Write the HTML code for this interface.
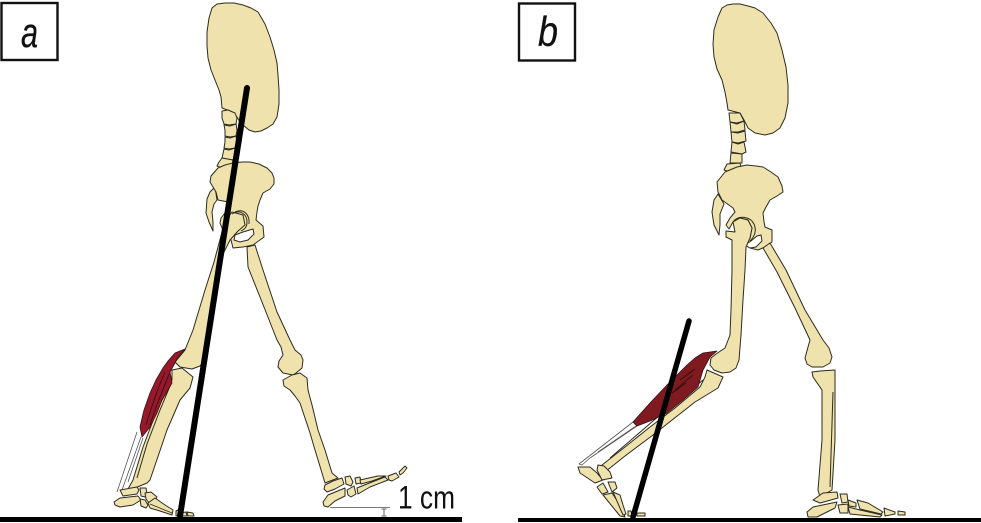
<!DOCTYPE html>
<html lang="en">
<head>
<meta charset="utf-8">
<title>Gait diagram</title>
<style>
html,body{margin:0;padding:0;background:#fff;width:981px;height:523px;overflow:hidden}
svg{display:block;filter:blur(.35px)}
.b{fill:#efe2ad;stroke:#2b2b1e;stroke-width:1;stroke-linejoin:round}
.m{fill:#97182a;stroke:#3a1015;stroke-width:.8;stroke-linejoin:round}
.m2{fill:#7f1a20;stroke:#3a1015;stroke-width:.8;stroke-linejoin:round}
.t{fill:#fff;stroke:#555;stroke-width:.8;stroke-linejoin:round}
.box{fill:#fff;stroke:#111;stroke-width:2.4}
.lab{font-family:"Liberation Sans",sans-serif;font-style:italic;font-size:42px;fill:#111;stroke:#111;stroke-width:.3}
</style>
</head>
<body>
<svg width="981" height="523" viewBox="0 0 981 523" xmlns="http://www.w3.org/2000/svg">
<rect width="981" height="523" fill="#fff"/>

<!-- PANEL A -->
<rect class="box" x="1.5" y="3" width="56" height="57"/>
<text class="lab" x="21" y="47" textLength="17" lengthAdjust="spacingAndGlyphs">a</text>

<!-- thorax -->
<polygon class="b" points="225,3 217,4 212,8 209,18 207,32 207,46 208,58 211,70 215,80 219,90 221,97 222,108 230,111 237,117 240,122 243,125 249,130 255,132 261,131 267,128 273,124 277,117 279,104 279,90 278,75 277,63 274,50 270,37 265,24 258,12 251,8 243,5 234,3"/>
<!-- vertebrae -->
<polygon class="b" points="222,111 228,110 235,113 237,118 236,124 229,125 224,124 222,118"/>
<polygon class="b" points="224,125 230,126 236,124 237,130 236,136 230,137 225,136 225,130"/>
<polygon class="b" points="225,137 230,138 236,136 237,142 235,148 229,149 224,148 225,142"/>
<polygon class="b" points="224,149 229,150 235,148 235,155 233,160 227,159 222,158"/>
<polygon class="b" points="222,158 233,160 232,165 222,168 217,166 219,162"/>
<!-- sacrum tail -->
<polygon class="b" points="215,187 210,192 207,199 206,213 209,222 213,231 213,222 212,212 214,204 217,200"/>
<!-- pelvis -->
<polygon class="b" points="218,168 225,165 233,163 242,162 250,162 259,164 267,168 272,173 274,178 274,184 270,189 263,193 260,200 258,206 257,212 256,220 263,226 264,237 253,245 243,247 233,248 231,240 228,232 222,228 220,223 221,218 225,213 227,207 228,202 218,200 216,192 210,182 211,176"/>
<!-- left femur -->
<polygon class="b" points="232,212 243,215 245,225 238,231 230,240 224,252 218,275 208,330 207,348 205,360 200,366 192,369 180,367 175,362 180,356 185,350 193,330 205,290 214,262 222,232 226,220"/>
<!-- acetabulum -->
<path d="M232,214 C240,209 247,214 247,222 C247,227 245,229 241,231 M235,212 C244,208 250,215 249,224" fill="none" stroke="#2b2b1e" stroke-width="1"/>
<polygon points="234,240 235,235 243,232 253,229 254,234 248,240 240,242" fill="#fff" stroke="#2b2b1e" stroke-width="1"/>
<!-- right femur -->
<polygon class="b" points="247,247 255,245 263,270 277,312 290,340 295,350 301,355 303,360 302,368 296,373 293,375 283,373 278,367 279,361 283,355 281,347 277,340 262,302 248,267"/>
<!-- right tibia -->
<polygon class="b" points="283,380 292,375 300,373 307,378 308,390 312,405 318,430 325,450 332,473 338,478 325,483 322,473 315,450 310,433 305,418 300,403 295,396 290,390 284,386"/>
<!-- right foot -->
<polygon class="b" points="325,485 333,481 342,478 344,484 335,489 327,492 324,489"/>
<polygon class="b" points="323,502 328,495 345,488 345,496 335,501 328,507 324,506"/>
<polygon class="b" points="345,477 350,476 353,482 351,486 346,484"/>
<polygon class="b" points="347,490 354,486 356,494 351,497 348,495"/>
<polygon class="b" points="355,478 360,477 361,483 356,484"/>
<polygon class="b" points="360,480 378,476 386,476 372,481 361,484"/>
<polygon class="b" points="357,488 372,482 385,477 388,480 370,487 358,494"/>
<polygon class="b" points="388,476 396,473 399,477 392,481 389,480"/>
<polygon class="b" points="399,472 405,466 407,468 403,473 400,475"/>
<!-- left tibia -->
<polygon class="b" points="172,370 182,368 193,377 190,388 180,400 167,430 150,480 147,483 135,488 128,489 133,480 143,447 157,410 168,388 172,380"/>
<polyline points="170,386 160,410 147,444 137,478" fill="none" stroke="#2b2b1e" stroke-width="1"/>
<!-- tendon -->
<line x1="137" y1="432" x2="117" y2="492" stroke="#555" stroke-width=".8"/>
<line x1="141" y1="437" x2="122" y2="490" stroke="#555" stroke-width=".8"/>
<line x1="143" y1="438" x2="128" y2="482" stroke="#555" stroke-width=".8"/>
<!-- muscle -->
<polygon class="m" points="185,349 175,353 168,361 163,368 156,380 150,393 144,410 140,427 142,437 150,427 157,413 162,400 168,390 172,383 170,372 175,363 178,357"/>
<path d="M165,372 C156,392 150,412 146,425 M170,372 C162,392 155,408 150,425" fill="none" stroke="#2a0d10" stroke-width=".8"/>
<!-- left foot -->
<polygon class="b" points="114,502 120,498 138,496 141,500 133,505 120,507 115,505"/>
<polygon class="b" points="120,490 137,487 139,490 137,494 123,496"/>
<polygon class="b" points="140,488 146,488 147,494 145,497 141,496"/>
<polygon class="b" points="145,493 151,492 157,497 155,502 150,504 146,499"/>
<polygon class="b" points="140,499 145,500 148,505 146,508 141,506"/>
<polygon class="b" points="148,503 155,498 165,505 173,510 172,515 160,511 150,508"/>
<line x1="150" y1="504" x2="172" y2="513" stroke="#2b2b1e" stroke-width=".8"/>
<polygon class="b" points="176,511 178,510 180,515 176,516"/>
<polygon class="b" points="180,513 186,512 187,516 180,516"/>
<polygon class="b" points="187,512 193,513 194,516 188,516"/>
<!-- gravity line -->
<line x1="247" y1="88" x2="180" y2="516" stroke="#000" stroke-width="6" stroke-linecap="round"/>
<!-- ground -->
<rect x="0" y="517" width="462" height="5" fill="#000"/>
<!-- 1 cm -->
<line x1="330" y1="507.5" x2="390" y2="507.5" stroke="#777" stroke-width="1"/>
<path d="M384,509 V516 M381.5,509 H386.5 M381.5,516 H386.5" stroke="#666" stroke-width="1" fill="none"/>
<text x="398" y="508.5" font-family="'Liberation Sans',sans-serif" font-size="32" fill="#111" textLength="57" lengthAdjust="spacingAndGlyphs">1 cm</text>

<!-- PANEL B -->
<rect class="box" x="519" y="3.5" width="56" height="57"/>
<text class="lab" x="538" y="46" textLength="20" lengthAdjust="spacingAndGlyphs">b</text>

<!-- thorax -->
<polygon class="b" points="733,4 727,5 722,8 718,17 714,30 713,44 714,57 717,69 722,80 725,92 727,103 728,110 740,113 744,120 748,128 755,133 765,135 773,133 780,128 785,118 788,103 788,85 786,67 782,50 777,33 771,23 763,13 755,8 748,6 740,4"/>
<!-- vertebrae -->
<polygon class="b" points="729,113 740,113 744,121 737,123 730,122"/>
<polygon class="b" points="730,122 737,124 744,121 745,130 738,132 731,132"/>
<polygon class="b" points="731,132 738,133 745,131 746,141 738,143 732,142"/>
<polygon class="b" points="732,142 738,144 744,142 746,152 742,154 731,152"/>
<polygon class="b" points="731,153 742,154 742,163 730,163"/>
<polygon class="b" points="727,164 740,163 741,167 730,172 724,170"/>
<!-- tail -->
<polygon class="b" points="718,194 714,200 712,212 714,225 719,235 720,225 720,214 724,204"/>
<!-- pelvis -->
<polygon class="b" points="717,182 725,172 737,167 747,165 756,166 763,167 771,172 778,177 782,186 783,192 777,196 770,200 766,207 763,213 764,222 765,227 772,230 772,242 765,247 758,250 750,248 745,245 750,238 752,228 748,220 740,218 733,222 729,229 726,225 730,218 735,212 733,208 722,200 718,192"/>
<path d="M733,222 C738,215 750,216 754,224 C757,231 754,237 750,241" fill="none" stroke="#2b2b1e" stroke-width="1"/>
<polygon points="745,245 751,241 757,236 761,235 762,241 756,247 750,248" fill="#fff" stroke="#2b2b1e" stroke-width="1"/>
<!-- right femur -->
<polygon class="b" points="763,248 770,243 786,270 805,310 823,340 829,348 832,357 830,363 823,367 812,367 807,364 805,358 808,347 810,340 795,308 777,272"/>
<!-- right tibia -->
<polygon class="b" points="812,372 820,371 835,370 835,392 835,440 832,490 820,497 818,490 822,440 822,390 813,377"/>
<line x1="833" y1="392" x2="830" y2="487" stroke="#2b2b1e" stroke-width="1"/>
<!-- right foot -->
<polygon class="b" points="813,500 823,493 837,492 838,498 820,503"/>
<polygon class="b" points="807,512 813,507 837,502 835,508 817,517 808,517"/>
<polygon class="b" points="840,494 847,494 848,502 842,503"/>
<polygon class="b" points="838,505 848,504 848,513 840,513"/>
<polygon class="b" points="848,500 856,503 856,507 849,506"/>
<polygon class="b" points="857,500 868,503 883,512 881,514 860,509"/>
<polygon class="b" points="848,507 860,510 882,515 880,517 850,514"/>
<polygon class="b" points="884,508 895,512 895,514 885,516"/>
<polygon class="b" points="898,511 905,512 905,515 898,515"/>
<!-- left femur -->
<polygon class="b" points="733,222 740,218 748,220 752,228 750,238 746,247 745,270 743,300 741,335 739,360 736,368 730,372 722,373 714,370 710,365 711,358 716,354 725,348 730,335 731,310 732,270 732,240 726,237 726,231 735,232"/>
<!-- left tibia -->
<polygon class="b" points="707,370 723,377 718,388 695,402 653,435 625,456 610,468 603,473 602,465 625,447 650,427 675,408 700,387 705,377"/>
<path d="M703,380 L660,415 L610,458" fill="none" stroke="#2b2b1e" stroke-width="1"/>
<!-- tendon -->
<polygon class="t" points="633,422 637,426 590,458 582,465 579,464"/>
<line x1="636" y1="426" x2="598" y2="452" stroke="#555" stroke-width=".8"/>
<!-- muscle -->
<polygon class="m2" points="717,351 703,353 695,358 687,365 677,375 667,385 650,403 633,422 637,426 650,421 667,413 683,400 698,387 703,370 710,357"/>
<path d="M695,369 L680,380 M693,375 L675,390 M686,383 L672,393" fill="none" stroke="#2a0d10" stroke-width=".8"/>
<!-- left foot -->
<polygon class="b" points="578,467 590,467 597,473 603,480 595,483 586,477 580,473"/>
<polygon class="b" points="598,465 604,466 610,472 612,478 602,480 597,470"/>
<polygon class="b" points="597,487 603,483 608,492 602,494"/>
<polygon class="b" points="608,482 615,482 617,488 612,492"/>
<polygon class="b" points="603,495 612,493 620,505 625,517 620,516"/>
<polygon class="b" points="613,492 620,495 623,505 626,514 623,515"/>
<polygon class="b" points="628,511 631,511 632,516 628,516"/>
<polygon class="b" points="637,513 645,513 645,516 637,516"/>
<!-- gravity line -->
<line x1="689" y1="321" x2="633" y2="517" stroke="#000" stroke-width="5.5" stroke-linecap="round"/>
<!-- ground -->
<rect x="518" y="518" width="463" height="4" fill="#000"/>
</svg>
</body>
</html>
